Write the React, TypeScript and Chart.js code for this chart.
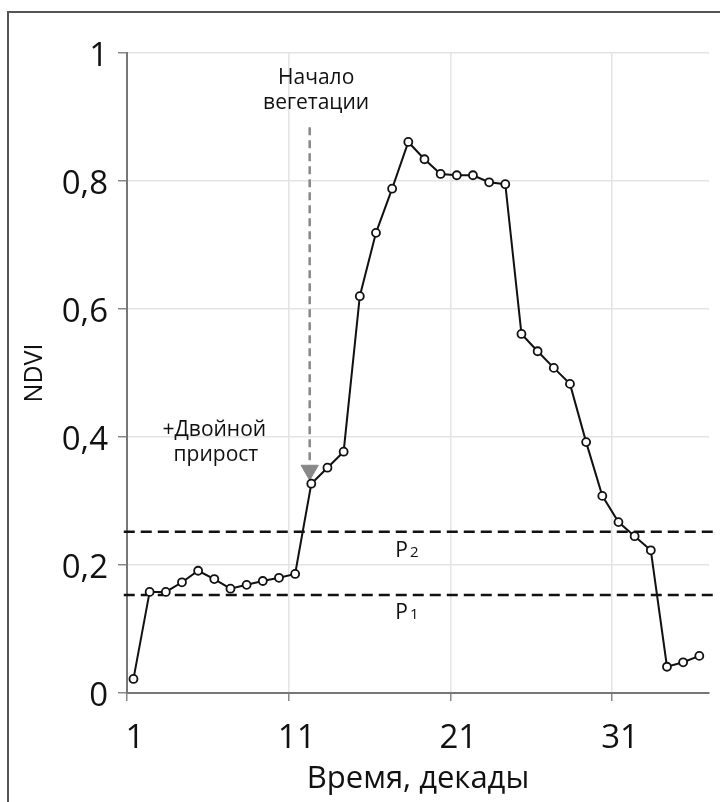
import React, { useEffect, useRef } from "react";
import { Chart, registerables } from "chart.js";

Chart.register(...registerables);

const decades = [
  1.4, 2.4, 3.4, 4.4, 5.4, 6.4, 7.4, 8.4, 9.4, 10.4, 11.4, 12.4, 13.4, 14.4, 15.4, 16.4, 17.4, 18.4,
  19.4, 20.4, 21.4, 22.4, 23.4, 24.4, 25.4, 26.4, 27.4, 28.4, 29.4, 30.4, 31.4, 32.4, 33.4, 34.4, 35.4, 36.4,
];
const ndvi = [
  0.022, 0.158, 0.158, 0.173, 0.191, 0.178, 0.163, 0.169, 0.175, 0.18, 0.186, 0.327, 0.352, 0.377,
  0.62, 0.719, 0.788, 0.861, 0.834, 0.811, 0.809, 0.809, 0.798, 0.795, 0.561, 0.534, 0.508, 0.483,
  0.392, 0.308, 0.267, 0.245, 0.223, 0.041, 0.048, 0.058,
];
const xTickValues = [1, 11, 21, 31];
const yTickValues = [0, 0.2, 0.4, 0.6, 0.8, 1];
const thresholdP1 = 0.153;
const thresholdP2 = 0.252;
const thresholdSpan = [0.8, 37.4];
const arrowX = 12.3;
const arrowYs = [0.884, 0.348];

const FONT = "'Open Sans', 'Noto Sans', sans-serif";

const annotationPlugin = {
  id: "annotations",
  afterDraw(chart: any) {
    const ctx = chart.ctx;
    const xs = chart.scales.x;
    const ys = chart.scales.y;
    ctx.save();
    // frame
    ctx.strokeStyle = "#555";
    ctx.lineWidth = 2;
    ctx.beginPath();
    ctx.moveTo(8, 802);
    ctx.lineTo(8, 12);
    ctx.lineTo(720, 12);
    ctx.stroke();

    ctx.fillStyle = "#111";
    ctx.textAlign = "center";
    ctx.textBaseline = "middle";
    ctx.font = `21px ${FONT}`;
    ctx.fillText("Начало", xs.getPixelForValue(12.7), ys.getPixelForValue(0.961));
    ctx.fillText("вегетации", xs.getPixelForValue(12.7), ys.getPixelForValue(0.922));
    ctx.fillText("+Двойной", xs.getPixelForValue(6.4), ys.getPixelForValue(0.411));
    ctx.fillText("прирост", xs.getPixelForValue(6.5), ys.getPixelForValue(0.372));

    const drawP = (sub: string, yv: number) => {
      const px = xs.getPixelForValue(17.6);
      const py = ys.getPixelForValue(yv);
      ctx.textAlign = "left";
      ctx.font = `21px ${FONT}`;
      ctx.fillText("P", px, py);
      const w = ctx.measureText("P").width;
      ctx.font = `15px ${FONT}`;
      ctx.fillText(sub, px + w + 2, py + 2);
    };
    drawP("2", 0.222);
    drawP("1", 0.125);
    ctx.restore();
  },
};

export default function App() {
  const ref = useRef<HTMLCanvasElement>(null);
  useEffect(() => {
    if (!ref.current) return;
    const chart = new Chart(ref.current, {
      type: "line",
      data: {
        datasets: [
          {
            data: decades.map((x, i) => ({ x, y: ndvi[i] })),
            borderColor: "#111",
            borderWidth: 2,
            pointRadius: 4,
            pointBorderWidth: 1.8,
            pointBackgroundColor: "#fff",
            pointBorderColor: "#111",
            tension: 0,
          },
          {
            data: thresholdSpan.map((x) => ({ x, y: thresholdP2 })),
            borderColor: "#111",
            borderWidth: 2.5,
            borderDash: [11, 6],
            pointRadius: 0,
            clip: false as any,
          },
          {
            data: thresholdSpan.map((x) => ({ x, y: thresholdP1 })),
            borderColor: "#111",
            borderWidth: 2.5,
            borderDash: [11, 6],
            pointRadius: 0,
            clip: false as any,
          },
          {
            data: arrowYs.map((y) => ({ x: arrowX, y })),
            borderColor: "#888",
            borderWidth: 2.5,
            borderDash: [8, 5],
            pointRadius: [0, 10],
            pointStyle: "triangle",
            pointRotation: 180,
            pointBackgroundColor: "#888",
            pointBorderColor: "#888",
            pointBorderWidth: 1,
          },
        ],
      },
      options: {
        responsive: false,
        animation: false,
        events: [],
        layout: { padding: { top: 53, right: 7, left: 0, bottom: 0 } },
        plugins: { legend: { display: false }, tooltip: { enabled: false } },
        scales: {
          x: {
            type: "linear",
            min: 1,
            max: 37,
            afterBuildTicks: (scale: any) => {
              scale.ticks = xTickValues.map((v) => ({ value: v }));
            },
            afterFit: (scale: any) => {
              scale.height = 109;
              scale.paddingLeft = 0;
              scale.paddingRight = 0;
            },
            grid: { color: "#e4e4e4", lineWidth: 1.5, tickLength: 8, tickColor: "#888" },
            border: { color: "#777", width: 2 },
            ticks: {
              color: "#111",
              font: { family: FONT, size: 33 },
              padding: 18,
              labelOffset: 8,
              autoSkip: false,
              maxRotation: 0,
              callback: (v: any) => String(v),
            },
            title: {
              display: true,
              text: "Время, декады",
              color: "#111",
              font: { family: FONT, size: 31 },
              padding: { top: 0, bottom: 4 },
            },
          },
          y: {
            type: "linear",
            min: 0,
            max: 1,
            afterBuildTicks: (scale: any) => {
              scale.ticks = yTickValues.map((v) => ({ value: v }));
            },
            afterFit: (scale: any) => {
              scale.width = 127;
              scale.paddingTop = 0;
              scale.paddingBottom = 0;
            },
            grid: { color: "#e4e4e4", lineWidth: 1.5, tickLength: 9, tickColor: "#888" },
            border: { color: "#777", width: 2 },
            ticks: {
              color: "#111",
              font: { family: FONT, size: 33 },
              padding: 10,
              labelOffset: 4,
              callback: (v: any) => String(Math.round(v * 10) / 10).replace(".", ","),
            },
            title: {
              display: true,
              text: "NDVI",
              color: "#111",
              font: { family: FONT, size: 25 },
              padding: { top: 20, bottom: 0 },
            },
          },
        },
      },
      plugins: [annotationPlugin],
    });
    return () => chart.destroy();
  }, []);
  return (
    <div style={{ position: "fixed", left: 0, top: 0, width: 720, height: 802, background: "#fff" }}>
      <canvas ref={ref} width={720} height={802} style={{ display: "block" }} />
    </div>
  );
}
